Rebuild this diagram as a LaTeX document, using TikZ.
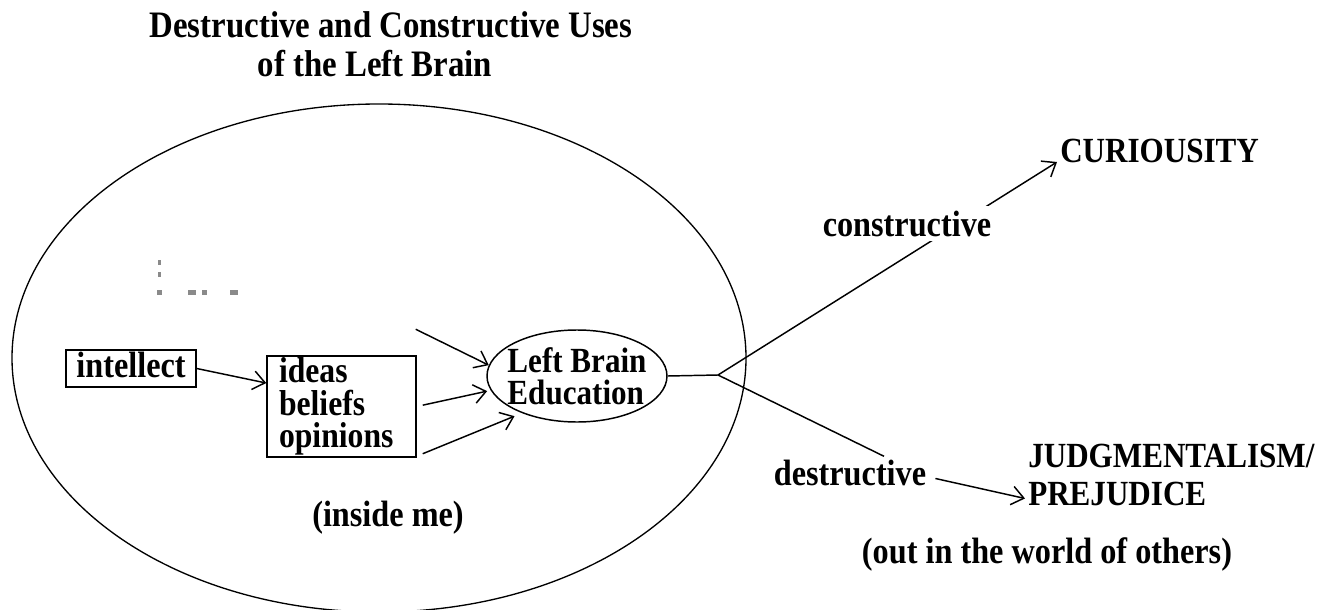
\documentclass[tikz,border=0pt]{standalone}
\usepackage{fontspec}
\setmainfont[FakeStretch=0.88]{Liberation Serif}
\usetikzlibrary{arrows.meta,shapes.geometric}
\definecolor{dotgray}{HTML}{8A8A8A}
\begin{document}
\begin{tikzpicture}[x=0.75pt,y=-0.75pt,
  txt/.style={font=\fontsize{27.5}{30}\selectfont\bfseries, inner sep=2.25pt},
  caps/.style={font=\fontsize{26.5}{29}\selectfont\bfseries, inner sep=2.25pt},
  ttl/.style={font=\fontsize{28}{30}\selectfont\bfseries, inner sep=0pt},
  ln/.style={line width=1.1pt},
  arr/.style={line width=1.1pt, -{Straight Barb[length=9pt,width=14pt,line width=1.1pt]}},
  boxnode/.style={draw, line width=1.1pt},
  dot/.style={fill=dotgray}]
\useasboundingbox (0,0) rectangle (1321,610);
\clip (0,0) rectangle (1321,610);

% title
\node[ttl, anchor=base] (title1) at (391,38) {Destructive and Constructive Uses};
\node[ttl, anchor=base] (title2) at (375,77) {of the Left Brain};

% big ellipse (inside me)
\draw[line width=1pt] (379,358) ellipse [x radius=275.25pt, y radius=190.5pt];

% gray dots
\fill[dot] (158,260) rectangle (160.5,265);
\fill[dot] (158,272) rectangle (160.5,277);
\fill[dot] (157,290) rectangle (162,295);
\fill[dot] (188,290) rectangle (196,295);
\fill[dot] (202,290) rectangle (207,295);
\fill[dot] (230,290) rectangle (238,295);

% nodes
\node[boxnode, txt, anchor=base, minimum width=97.5pt, inner xsep=0pt, inner ysep=0pt,
      text height=20.25pt, text depth=7.5pt] (intellect) at (131,377) {intellect};
\node[boxnode, txt, font=\fontsize{27}{24.5}\selectfont\bfseries, align=left,
      text width=93.75pt, inner xsep=9pt, inner ysep=0pt, minimum height=75.75pt]
      (ideas) at (341.5,406.5) {ideas\\beliefs\\opinions};
\node[ellipse, draw, line width=1.1pt, txt, font=\fontsize{26.5}{24.2}\selectfont\bfseries,
      align=left, inner xsep=-12pt, inner ysep=0pt, minimum width=135pt, minimum height=69pt,
      text depth=0pt]
      (lbe) at (577,376) {Left Brain\\Education};

\node[txt, anchor=base] (inside) at (388,526) {(inside me)};

\coordinate (J) at (718,375);
\node[caps, anchor=base west] (cur) at (1057,162) {CURIOUSITY};
\node[txt, anchor=base] (des) at (850,485) {destructive};
\node[caps, anchor=base west] (judg) at (1025,467) {JUDGMENTALISM/};
\node[caps, anchor=base west] (prej) at (1025,505) {PREJUDICE};
\node[txt, anchor=base] (out) at (1047,563) {(out in the world of others)};

% connectors
\draw[arr] (intellect.east) -- ([yshift=17.6pt]ideas.west);
\draw[arr] ([xshift=-0.75pt,yshift=19.5pt]ideas.north east) -- (lbe.173);
\draw[arr] ([xshift=4.5pt,yshift=1pt]ideas.east) -- ([xshift=-3pt]lbe.190);
\draw[arr, shorten >=6pt] ([xshift=4.5pt,yshift=3pt]ideas.south east) -- (lbe.214);
\draw[ln] (lbe.east) -- (J);
\draw[arr] (J) -- (cur.base west);
\node[txt, anchor=base, fill=white, inner sep=3.5pt] (con) at (907,236) {constructive};
\draw[ln] (J) -- ([xshift=25.5pt]des.north);
\draw[arr] ([xshift=4.5pt,yshift=-4.5pt]des.east) -- ([yshift=-3.75pt]prej.west);
\end{tikzpicture}
\end{document}
